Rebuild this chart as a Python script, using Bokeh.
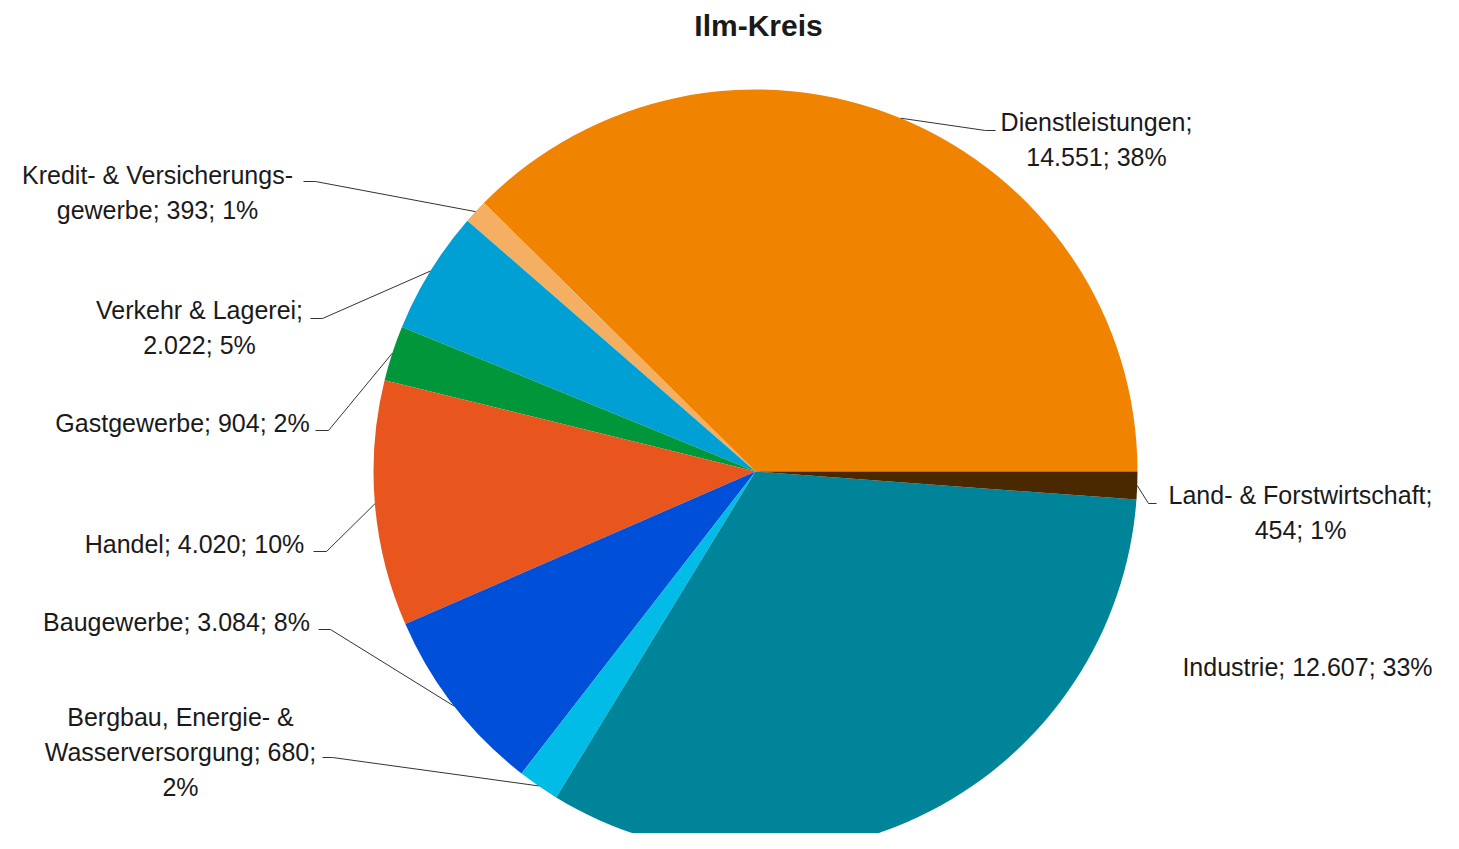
import math
from bokeh.plotting import figure
from bokeh.models import Range1d, ColumnDataSource, Label
from bokeh.core.properties import value
from bokeh.embed import file_html
from bokeh.resources import INLINE

# ---------------- data ----------------
title = "Ilm-Kreis"
categories = [
    "Dienstleistungen",
    "Kredit- & Versicherungs-\ngewerbe",
    "Verkehr & Lagerei",
    "Gastgewerbe",
    "Handel",
    "Baugewerbe",
    "Bergbau, Energie- &\nWasserversorgung",
    "Industrie",
    "Land- & Forstwirtschaft",
]
values = [14551, 393, 2022, 904, 4020, 3084, 680, 12607, 454]
colors = ["#F08300", "#F4AF63", "#00A0D4", "#00963A", "#E8561E",
          "#004FD9", "#00BCE6", "#00849A", "#4A2800"]

# ---------------- layout (label placement, pixels relative to pie centre) ----------------
# separators after name and after value (" " or line break)
sep_name = ["\n", " ", "\n", " ", " ", " ", " ", " ", "\n"]
sep_val = [" ", " ", " ", " ", " ", " ", "\n", " ", " "]
label_center = [(341, 350), (-598, 297), (-556, 162), (-573, 49), (-561, -72),
                (-579, -150), (-575, -245), (552, -195), (545, -23)]
leader_end = [(240, 341), (-452, 290), (-445, 153), (-440, 41), (-442, -80),
              (-437, -158), (-433, -286), None, (401, -32)]
elbow_len = [-10, 12, 12, 13, 13, 12, 10, 0, -8]
LINE_H = 35
R = 382
FONT = "Liberation Sans"

total = sum(values)
starts, ends, mids = [], [], []
acc = 0.0
for v in values:
    a0 = acc / total * 2 * math.pi
    acc += v
    a1 = acc / total * 2 * math.pi
    starts.append(a0)
    ends.append(a1)
    mids.append((a0 + a1) / 2)

p = figure(width=1443, height=833, output_backend="svg", toolbar_location=None,
           x_range=Range1d(-755, 688), y_range=Range1d(-362, 471),
           x_axis_type=None, y_axis_type=None, min_border=0)
p.grid.visible = False
p.outline_line_color = None
p.background_fill_color = "white"
p.border_fill_color = "white"

src = ColumnDataSource(dict(start=starts, end=ends, color=colors))
p.wedge(x=0, y=0, radius=R, start_angle="start", end_angle="end",
        fill_color="color", line_color=None, source=src)

# labels
tx, ty, tt = [], [], []
for i, (name, v) in enumerate(zip(categories, values)):
    vs = f"{v:,}".replace(",", ".")
    pct = round(v / total * 100)
    text = f"{name};{sep_name[i]}{vs};{sep_val[i]}{pct}%"
    cx, cy = label_center[i]
    for j, line in enumerate(text.split("\n")):
        tx.append(cx)
        ty.append(cy - j * LINE_H)
        tt.append(line)
p.text(x=tx, y=ty, text=tt, text_font=value(FONT), text_font_size="25px",
       text_align="center", text_baseline="middle", text_color="#1a1a1a")

# leader lines
xs, ys = [], []
for i, m in enumerate(mids):
    if leader_end[i] is None:
        continue
    ex, ey = leader_end[i]
    xs.append([R * math.cos(m), ex + elbow_len[i], ex])
    ys.append([R * math.sin(m), ey, ey])
p.multi_line(xs=xs, ys=ys, line_color="#333333", line_width=1)

p.add_layout(Label(x=3, y=446, text=title, text_align="center", text_baseline="middle",
                   text_font=FONT, text_font_size="30px", text_font_style="bold",
                   text_color="#1a1a1a"))

open("out.html", "w").write(file_html(p, INLINE))
